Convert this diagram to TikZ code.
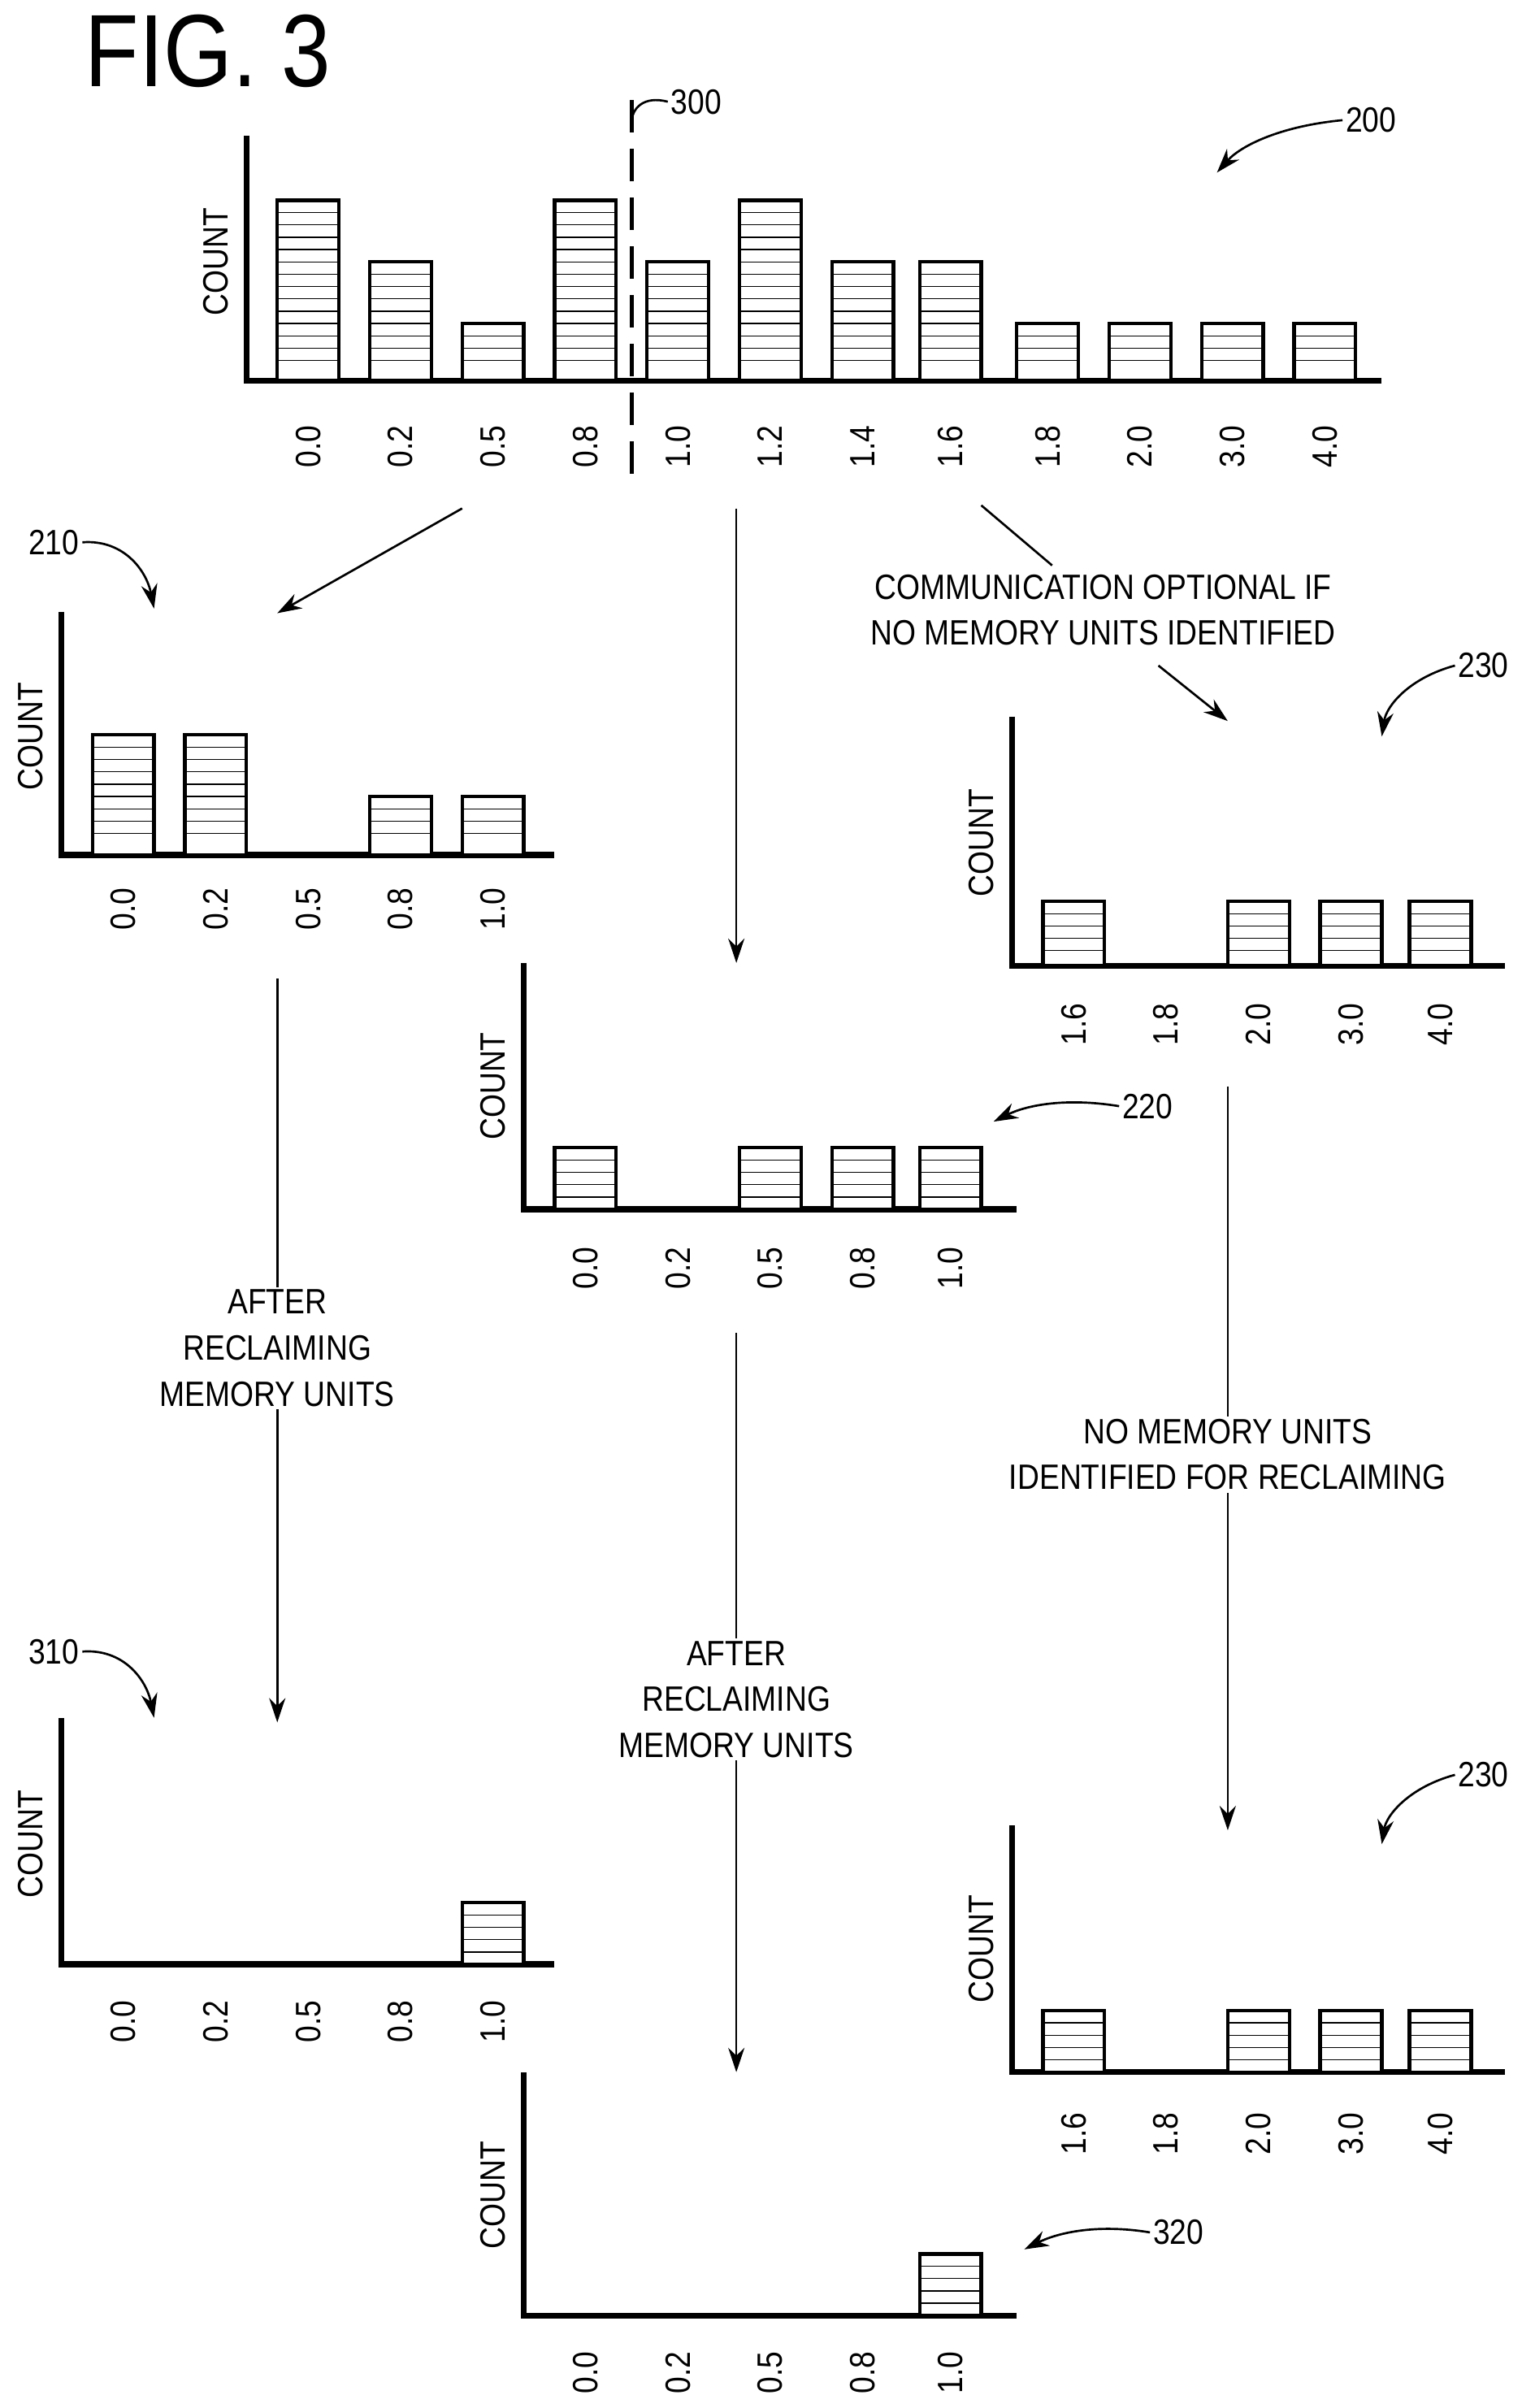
\documentclass[tikz,border=0pt]{standalone}
\usepackage{fontspec}
\setmainfont{Liberation Sans}[FakeStretch=0.86]
\usetikzlibrary{arrows.meta}
\begin{document}
\begin{tikzpicture}[x=0.02cm,y=-0.02cm,
  axis/.style={line width=2.2pt},
  bar/.style={line width=1.3pt,fill=white},
  hatch/.style={line width=0.4pt},
  txt/.style={font=\fontsize{13}{15}\selectfont,inner sep=1pt},
  tick/.style={txt,rotate=90},
  arr/.style={line width=0.8pt,-{Stealth[length=9pt,width=6pt]}},
  lead/.style={line width=0.8pt},
  ref/.style={txt}]
\useasboundingbox (0,0) rectangle (988,1563);
% chart macro: #1 x0, #2 baseline, #3 top, #4 xend, #5 cy of COUNT, #6 label y, #7 list cx/top/label
\newcommand{\mychart}[7]{%
  \draw[axis] (#1,#3) -- (#1,#2) -- (#4,#2);
  \node[tick] at (#1-20,#5) {COUNT};
  \foreach \cx/\tp/\lb in {#7}{%
    \node[tick] at (\cx,#6) {\lb};
    \ifdim\tp pt>0pt
      \draw[bar] (\cx-20,#2) rectangle (\cx+20,\tp);
      \pgfmathtruncatemacro{\nn}{(#2-\tp)/8-1}
      \foreach \k in {1,...,\nn}{\draw[hatch] (\cx-20,\tp+8*\k) -- (\cx+20,\tp+8*\k);}
    \fi}}
\node[font=\fontsize{38}{40}\selectfont] (fig) at (135,33) {FIG. 3};
% 200
\mychart{160}{247}{88}{897}{170}{290}{200/130/0.0,260/170/0.2,320/210/0.5,380/130/0.8,440/170/1.0,500/130/1.2,560/170/1.4,617/170/1.6,680/210/1.8,740/210/2.0,800/210/3.0,860/210/4.0}
\draw[line width=1.6pt,dash pattern=on 12pt off 6pt] (410,65) -- (410,312);
\node[ref] (l300) at (452,66) {300};
\draw[lead] (l300.west) .. controls (418,62) and (410,70) .. (410,80);
\node[ref] (l200) at (890,78) {200};
\draw[arr] (l200.west) .. controls (830,82) and (805,95) .. (790,112);
% 210
\mychart{40}{555}{397}{360}{478}{590}{80/477/0.0,140/477/0.2,200/0/0.5,260/517/0.8,320/517/1.0}
\node[ref] (l210) at (35,352) {210};
\draw[arr] (l210.east) .. controls (80,350) and (95,370) .. (100,395);
\coordinate (a1) at (300,330); \coordinate (a1e) at (180,398);
\draw[arr] (a1) -- (a1e);
% 220
\mychart{340}{785}{625}{660}{705}{823}{380/745/0.0,440/0/0.2,500/745/0.5,560/745/0.8,617/745/1.0}
\node[ref] (l220) at (745,718) {220};
\draw[arr] (l220.west) .. controls (690,712) and (665,718) .. (645,728);
\coordinate (a2) at (478,330); \coordinate (a2e) at (478,625);
\draw[arr] (a2) -- (a2e);
% 230 top
\mychart{657}{627}{465}{977}{547}{665}{697/585/1.6,757/0/1.8,817/585/2.0,877/585/3.0,935/585/4.0}
\node[ref] (l230) at (963,432) {230};
\draw[arr] (l230.west) .. controls (915,440) and (900,458) .. (897,478);
\node[txt,align=center] (comm) at (716,396) {COMMUNICATION OPTIONAL IF\\[2pt]NO MEMORY UNITS IDENTIFIED};
\coordinate (c1) at (637,328);
\draw[lead] (c1) -- (683,367);
\coordinate (c2) at (752,432); \coordinate (c2e) at (797,468);
\draw[arr] (c2) -- (c2e);
% 210 -> 310
\coordinate (b1) at (180,635); \coordinate (b1e) at (180,1118);
\draw[arr] (b1) -- (b1e);
\node[txt,fill=white,align=center] (t1) at (180,875) {AFTER\\[2pt]RECLAIMING\\[2pt]MEMORY UNITS};
\mychart{40}{1275}{1115}{360}{1197}{1312}{80/0/0.0,140/0/0.2,200/0/0.5,260/0/0.8,320/1235/1.0}
\node[ref] (l310) at (35,1072) {310};
\draw[arr] (l310.east) .. controls (80,1070) and (95,1090) .. (100,1115);
% 220 -> 320
\coordinate (b2) at (478,865); \coordinate (b2e) at (478,1345);
\draw[arr] (b2) -- (b2e);
\node[txt,fill=white,align=center] (t2) at (478,1103) {AFTER\\[2pt]RECLAIMING\\[2pt]MEMORY UNITS};
\mychart{340}{1503}{1345}{660}{1425}{1540}{380/0/0.0,440/0/0.2,500/0/0.5,560/0/0.8,617/1463/1.0}
\node[ref] (l320) at (765,1449) {320};
\draw[arr] (l320.west) .. controls (710,1443) and (685,1450) .. (665,1460);
% 230 -> 230
\coordinate (b3) at (797,705); \coordinate (b3e) at (797,1188);
\draw[arr] (b3) -- (b3e);
\node[txt,fill=white,align=center] (t3) at (797,944) {NO MEMORY UNITS\\[2pt]IDENTIFIED FOR RECLAIMING};
\mychart{657}{1345}{1185}{977}{1265}{1385}{697/1305/1.6,757/0/1.8,817/1305/2.0,877/1305/3.0,935/1305/4.0}
\node[ref] (l230b) at (963,1152) {230};
\draw[arr] (l230b.west) .. controls (915,1160) and (900,1178) .. (897,1197);
\end{tikzpicture}
\end{document}
